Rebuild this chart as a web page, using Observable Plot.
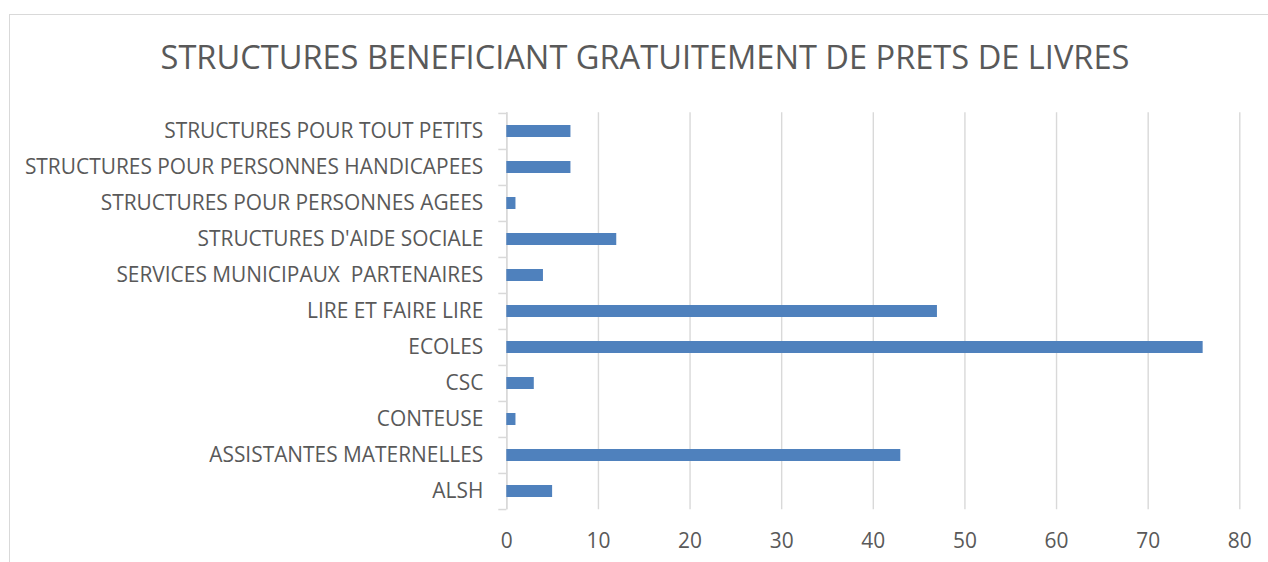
<!DOCTYPE html>
<html>
<head>
<meta charset="utf-8">
<script src="https://cdn.jsdelivr.net/npm/d3@7"></script>
<script src="https://cdn.jsdelivr.net/npm/@observablehq/plot@0.6"></script>
<style>
  html, body { margin: 0; padding: 0; background: #ffffff; }
  body { width: 1268px; height: 562px; overflow: hidden; position: relative; }
  .frame { position: absolute; left: 9px; top: 14px; width: 2000px; height: 2000px; border: 1.5px solid #d9d9d9; box-sizing: border-box; }
  .title { position: absolute; top: 41px; left: 11px; width: 1268px; text-align: center;
           font-family: "Open Sans", sans-serif; font-size: 32.6px; line-height: 32px; color: #595959; white-space: nowrap; }
  #chart { position: absolute; top: 92px; left: 0; }
  #chart svg text { white-space: pre; }
</style>
</head>
<body>
<div class="frame"></div>
<div class="title" id="title"></div>
<div id="chart"></div>
<script>
const titleText = "STRUCTURES BENEFICIANT GRATUITEMENT DE PRETS DE LIVRES";
const categories = [
  "STRUCTURES POUR TOUT PETITS",
  "STRUCTURES POUR PERSONNES HANDICAPEES",
  "STRUCTURES POUR PERSONNES AGEES",
  "STRUCTURES D'AIDE SOCIALE",
  "SERVICES MUNICIPAUX  PARTENAIRES",
  "LIRE ET FAIRE LIRE",
  "ECOLES",
  "CSC",
  "CONTEUSE",
  "ASSISTANTES MATERNELLES",
  "ALSH"
];
const values = [7, 7, 1, 12, 4, 47, 76, 3, 1, 43, 5];
const xTicks = [0, 10, 20, 30, 40, 50, 60, 70, 80];

const data = categories.map((c, i) => ({category: c, value: values[i]}));

document.getElementById("title").textContent = titleText;

const W = 1268, H = 470;
const mL = 506.3, mR = 28.7, mT = 20.3, mB = 52.7;
const step = (H - mT - mB) / categories.length;
const grey = "#d9d9d9", textCol = "#595959", fs = 20.9;

const chart = Plot.plot({
  width: W, height: H,
  marginLeft: mL, marginRight: mR, marginTop: mT, marginBottom: mB,
  style: {fontFamily: "'Open Sans', sans-serif", fontSize: fs + "px", color: textCol, background: "transparent"},
  x: {domain: [0, 80], label: null},
  y: {domain: categories, paddingInner: 0.66, paddingOuter: 0.33, label: null},
  marks: [
    Plot.gridX(xTicks, {stroke: grey, strokeOpacity: 1, strokeWidth: 1.4}),
    Plot.ruleX([0], {stroke: grey, strokeWidth: 1.5}),
    Plot.axisY({text: null, tickSize: 8, dy: -step / 2, stroke: grey, strokeWidth: 1.5, strokeOpacity: 1, label: null}),
    Plot.axisY([categories[categories.length - 1]], {text: null, tickSize: 8, dy: step / 2, stroke: grey, strokeWidth: 1.5, strokeOpacity: 1, label: null}),
    Plot.barX(data, {x: "value", y: "category", fill: "#4f81bd"}),
    Plot.axisY({tickSize: 0, tickPadding: 23.5, fill: textCol, fontSize: fs, label: null}),
    Plot.axisX(xTicks, {tickSize: 0, tickPadding: 23.5, fill: textCol, fontSize: fs, label: null})
  ]
});
document.getElementById("chart").appendChild(chart);
</script>
</body>
</html>
